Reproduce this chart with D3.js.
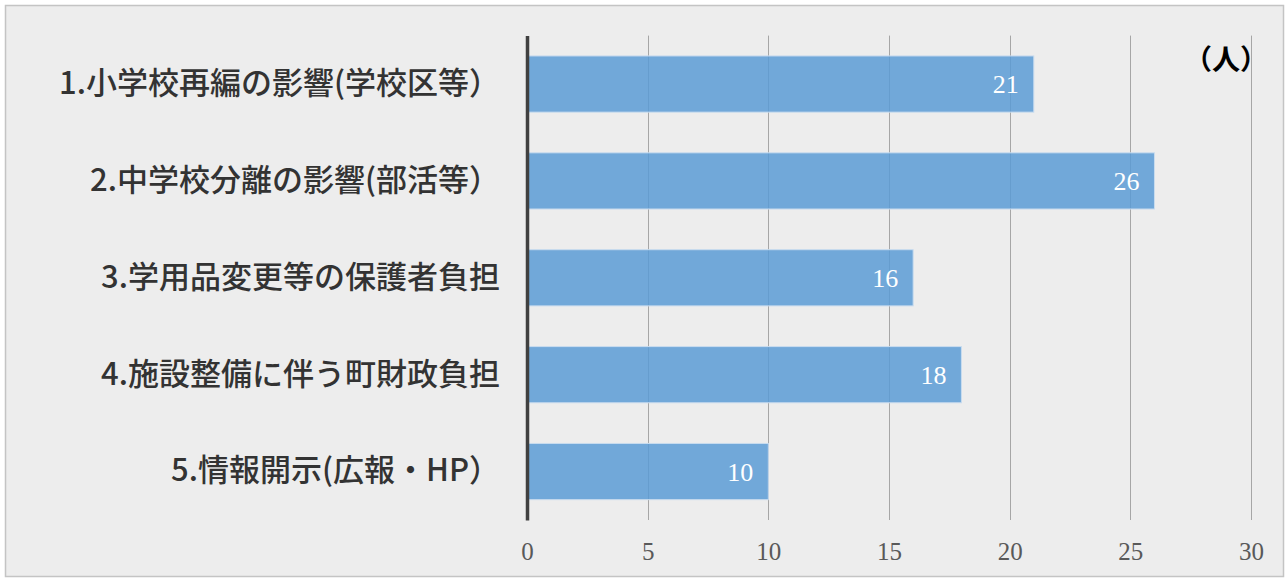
<!DOCTYPE html>
<html>
<head>
<meta charset="utf-8">
<script src="https://cdn.jsdelivr.net/npm/d3@7"></script>
<style>
  html, body { margin: 0; padding: 0; background: #fff; }
  svg { display: block; }
</style>
</head>
<body>
<div id="chart"></div>
<script>
// data
const categories = [
  '1.小学校再編の影響(学校区等）',
  '2.中学校分離の影響(部活等）',
  '3.学用品変更等の保護者負担',
  '4.施設整備に伴う町財政負担',
  '5.情報開示(広報・HP）'
];
const counts = [21, 26, 16, 18, 10];
const xTicks = [0, 5, 10, 15, 20, 25, 30];
const unitLabel = '（人）';

const W = 1287, H = 579;
const plot = { left: 527, right: 1251, top: 35.6, bottom: 520 };

const svg = d3.select('#chart')
  .append('svg')
  .attr('width', W)
  .attr('height', H);

// panel
svg.append('rect')
  .attr('x', 5.5).attr('y', 5.5)
  .attr('width', W - 9).attr('height', H - 8)
  .attr('fill', '#ededed')
  .attr('stroke', '#c4c4c4')
  .attr('stroke-width', 1.5);

const x = d3.scaleLinear()
  .domain([0, 30])
  .range([plot.left, plot.right]);

const y = d3.scaleBand()
  .domain(categories)
  .range([plot.top, plot.bottom])
  .paddingInner(0.42)
  .paddingOuter(0.21);

// grid lines
svg.append('g')
  .selectAll('line')
  .data(xTicks.filter(d => d > 0))
  .join('line')
  .attr('x1', d => Math.round(x(d)) + 0.5)
  .attr('x2', d => Math.round(x(d)) + 0.5)
  .attr('y1', plot.top)
  .attr('y2', plot.bottom)
  .attr('stroke', '#a6a6a6')
  .attr('stroke-width', 1);

// bars
svg.append('g')
  .selectAll('rect')
  .data(counts)
  .join('rect')
  .attr('x', x(0))
  .attr('y', (d, i) => y(categories[i]))
  .attr('width', d => x(d) - x(0))
  .attr('height', y.bandwidth())
  .attr('fill', '#5b9bd5')
  .attr('fill-opacity', 0.85)
  .attr('stroke', '#c9dcef')
  .attr('stroke-width', 1);

// value labels
svg.append('g')
  .selectAll('text')
  .data(counts)
  .join('text')
  .attr('x', d => x(d) - 15)
  .attr('y', (d, i) => y(categories[i]) + y.bandwidth() / 2)
  .attr('dy', '0.35em')
  .attr('text-anchor', 'end')
  .attr('fill', '#ffffff')
  .style('font-family', '"Liberation Serif", "DejaVu Serif", serif')
  .style('font-size', '26px')
  .text(d => d);

// x axis tick labels
const xAxis = svg.append('g')
  .attr('transform', `translate(0,${plot.bottom})`)
  .call(d3.axisBottom(x).tickValues(xTicks).tickSize(0).tickPadding(22));
xAxis.select('.domain').remove();
xAxis.selectAll('text')
  .attr('fill', '#595959')
  .style('font-family', '"Liberation Serif", "DejaVu Serif", serif')
  .style('font-size', '25px');

// y axis with category labels
const yAxis = svg.append('g')
  .attr('transform', `translate(${plot.left},0)`)
  .call(d3.axisLeft(y).tickSize(0).tickPadding(27));
yAxis.select('.domain')
  .attr('stroke', '#404040')
  .attr('stroke-width', 3.5);
yAxis.selectAll('text')
  .attr('fill', '#333333')
  .style('font-family', '"Noto Sans CJK JP", "Noto Sans", sans-serif')
  .style('font-weight', '500')
  .style('font-size', '31px');

// unit label
svg.append('text')
  .attr('x', x(30) - 25)
  .attr('y', 60)
  .attr('dy', '0.35em')
  .attr('text-anchor', 'middle')
  .attr('fill', '#000')
  .style('font-family', '"Noto Sans CJK JP", sans-serif')
  .style('font-weight', 'bold')
  .style('font-size', '28px')
  .text(unitLabel);
</script>
</body>
</html>
